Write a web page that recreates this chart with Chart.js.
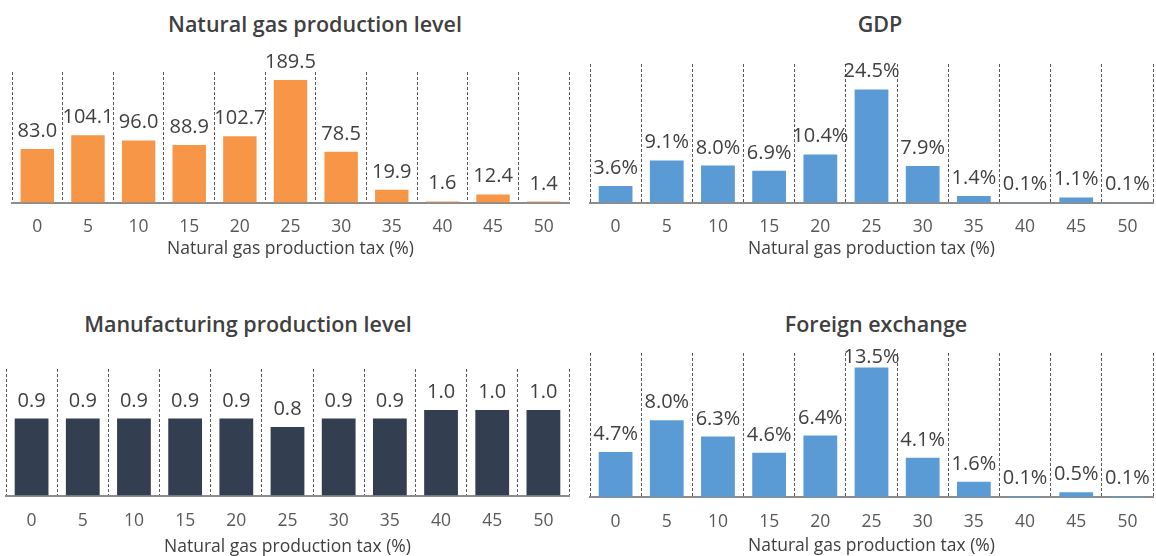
<!DOCTYPE html>
<html>
<head>
<meta charset="utf-8">
<script src="https://cdn.jsdelivr.net/npm/chart.js@4/dist/chart.umd.min.js"></script>
<style>
    body { margin: 0; background: #fff; width: 1156px; height: 556px; position: relative; overflow: hidden; font-family: "Open Sans", sans-serif; }
    canvas { position: absolute; }
    .title { position: absolute; transform: translateX(-50%); white-space: nowrap; font-size: 21.5px; font-weight: 600; color: #404040; line-height: 28px; }
</style>
</head>
<body>
<div class="title" style="left:315px; top:10px;">Natural gas production level</div>
<div class="title" style="left:880px; top:10px;">GDP</div>
<div class="title" style="left:248px; top:310px;">Manufacturing production level</div>
<div class="title" style="left:876px; top:310px;">Foreign exchange</div>

<canvas id="gasChart" width="580" height="220" style="left:0; top:40px;"></canvas>
<canvas id="gdpChart" width="576" height="220" style="left:580px; top:40px;"></canvas>
<canvas id="mfgChart" width="580" height="218" style="left:0; top:340px;"></canvas>
<canvas id="fxChart" width="576" height="227" style="left:580px; top:330px;"></canvas>

<script>
// Categories: natural gas production tax rate (%)
const taxRates = ['0', '5', '10', '15', '20', '25', '30', '35', '40', '45', '50'];

// Series
const gasProduction = [83.0, 104.1, 96.0, 88.9, 102.7, 189.5, 78.5, 19.9, 1.6, 12.4, 1.4];
const gdpChange = [3.6, 9.1, 8.0, 6.9, 10.4, 24.5, 7.9, 1.4, 0.1, 1.1, 0.1];
const manufacturing = [0.9, 0.9, 0.9, 0.9, 0.9, 0.8, 0.9, 0.9, 1.0, 1.0, 1.0];
const foreignExchange = [4.7, 8.0, 6.3, 4.6, 6.4, 13.5, 4.1, 1.6, 0.1, 0.5, 0.1];

const axisTitle = 'Natural gas production tax (%)';

// Draw value labels above each bar (no datalabels plugin available offline)
const barLabels = {
    id: 'barLabels',
    afterDatasetsDraw(chart, args, opts) {
        const ctx = chart.ctx;
        const meta = chart.getDatasetMeta(0);
        const values = chart.data.datasets[0].data;
        ctx.save();
        ctx.font = '20px "Open Sans", sans-serif';
        ctx.fillStyle = '#404040';
        ctx.textAlign = 'center';
        ctx.textBaseline = 'alphabetic';
        meta.data.forEach((bar, i) => {
            let y = bar.y - 12;
            if (opts.clampTop !== undefined) {
                y = Math.max(y, chart.chartArea.top + opts.clampTop);
            }
            ctx.fillText(values[i].toFixed(1) + (opts.suffix || ''), bar.x, y);
        });
        ctx.restore();
    }
};

function makeChart(id, data, color, yMax, padding, tickPad, titlePad, labelOpts) {
    const ctx = document.getElementById(id).getContext('2d');
    return new Chart(ctx, {
        type: 'bar',
        data: {
            labels: taxRates,
            datasets: [{
                data: data,
                backgroundColor: color,
                borderWidth: 0,
                categoryPercentage: 1,
                barPercentage: 0.66
            }]
        },
        options: {
            responsive: false,
            animation: false,
            layout: { padding: padding },
            scales: {
                x: {
                    grid: {
                        offset: true,
                        color: '#595959',
                        lineWidth: 1,
                        drawTicks: false
                    },
                    border: {
                        display: true,
                        color: '#8c8c8c',
                        width: 2,
                        dash: [3, 2]
                    },
                    ticks: {
                        padding: tickPad,
                        color: '#595959',
                        font: { family: '"Open Sans", sans-serif', size: 17.5 }
                    },
                    title: {
                        display: true,
                        text: axisTitle,
                        color: '#404040',
                        padding: { top: titlePad, bottom: 0 },
                        font: { family: '"Open Sans", sans-serif', size: 17.5, weight: '500' }
                    }
                },
                y: {
                    display: false,
                    min: 0,
                    max: yMax
                }
            },
            plugins: {
                legend: { display: false },
                tooltip: { enabled: false },
                barLabels: labelOpts
            }
        },
        plugins: [barLabels]
    });
}

makeChart('gasChart', gasProduction, '#F79646', 202,
    { left: 12, right: 11, top: 32, bottom: 0 }, 14.5, -13.5, {});
makeChart('gdpChart', gdpChange, '#5B9BD5', 30,
    { left: 10, right: 3, top: 24, bottom: 0 }, 14.5, -13.5, { suffix: '%' });
makeChart('mfgChart', manufacturing, '#333F50', 1.48,
    { left: 6, right: 11, top: 29, bottom: 0 }, 15.5, -10.5, {});
makeChart('fxChart', foreignExchange, '#5B9BD5', 15,
    { left: 10, right: 3, top: 23, bottom: 0 }, 14.5, -11, { suffix: '%', clampTop: 10 });
</script>
</body>
</html>
